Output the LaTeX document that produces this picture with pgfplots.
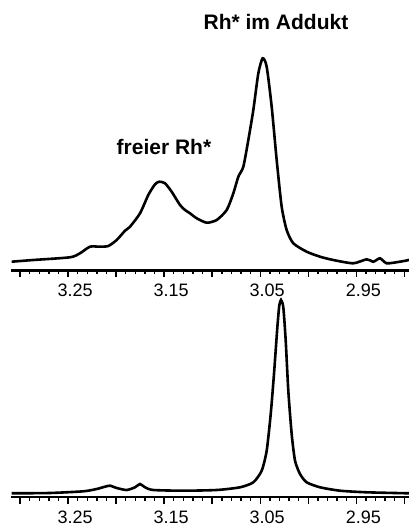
\documentclass[border=0pt]{standalone}
\usepackage{fontspec}
\setmainfont{Liberation Sans}
\usepackage{pgfplots}
\pgfplotsset{compat=1.18}
\pgfplotsset{
  nmr/.style={
    scale only axis,
    width=398pt,
    x dir=reverse,
    xmin=2.89521, xmax=3.30937,
    ymin=0,
    axis x line*=bottom,
    axis y line=none,
    axis line style={line width=2.2pt, black},
    xtick={2.90,2.95,3.00,3.05,3.10,3.15,3.20,3.25,3.30},
    xticklabels={,2.95,,3.05,,3.15,,3.25,},
    minor x tick num=4,
    tick align=outside,
    major tick length=6.5pt,
    minor tick length=4pt,
    every tick/.style={black, line width=1.4pt},
    xticklabel style={font=\fontsize{18}{18}\selectfont, inner sep=0pt, xshift=7pt, yshift=-6.8pt},
    clip=false,
  }
}
\begin{document}
\begin{tikzpicture}
\useasboundingbox (0,0) rectangle (409pt,528pt);
\begin{axis}[nmr, at={(11pt,257.5pt)}, anchor=south west, height=270.5pt, ymax=270.5]
\addplot[black, line width=2.6pt, smooth, tension=0.4] coordinates {
(3.3087,8.8) (3.2862,10.5) (3.2480,13.2) (3.2376,17.2) (3.2272,23.8) (3.2168,23.8)
(3.2081,24.5) (3.1994,30.5) (3.1907,39.8) (3.1855,43.8) (3.1751,57.2) (3.1665,75.5)
(3.1595,86.2) (3.1550,88.8) (3.1491,87.2) (3.1422,78.8) (3.1335,65.5) (3.1283,60.5)
(3.1231,57.2) (3.1161,52.2) (3.1057,47.8) (3.0953,50.5) (3.0849,60.5) (3.0780,77.2)
(3.0728,93.8) (3.0676,103.8) (3.0624,130.5) (3.0572,160.5) (3.0520,197.2) (3.0475,212.2)
(3.0433,203.8) (3.0381,163.8) (3.0329,110.5) (3.0277,63.8) (3.0225,40.5) (3.0156,27.2)
(3.0017,18.8) (2.9878,13.8) (2.9740,10.5) (2.9532,7.2) (2.9392,11.2) (2.9323,8.8)
(2.9254,12.2) (2.9184,7.2) (2.9046,8.8) (2.8952,10.5)
};
\node[anchor=base, font=\bfseries\fontsize{21}{21}\selectfont] at (axis cs:3.0336,240.5) {Rh* im Addukt};
\node[anchor=base, font=\bfseries\fontsize{21}{21}\selectfont] at (axis cs:3.1502,115.5) {freier Rh*};
\end{axis}
\begin{axis}[nmr, at={(11pt,31pt)}, anchor=south west, height=204pt, ymax=204]
\addplot[black, line width=2.6pt, smooth, tension=0.4] coordinates {
(3.3087,3.7) (3.2688,4.0) (3.2341,5.7) (3.2202,8.0) (3.2116,10.3) (3.2063,11.3)
(3.1994,9.0) (3.1890,7.0) (3.1803,9.7) (3.1751,13.0) (3.1699,9.7) (3.1613,7.0)
(3.1301,6.3) (3.0953,7.0) (3.0711,9.7) (3.0572,14.7) (3.0485,26.3) (3.0433,46.3)
(3.0391,83) (3.0357,123) (3.0322,169.7) (3.0302,191.3) (3.0284,197) (3.0260,189.7)
(3.0235,156.3) (3.0208,106.3) (3.0173,63) (3.0138,36.3) (3.0086,23) (3.0017,14.7)
(2.9878,9.7) (2.9670,6.3) (2.9392,4.7) (2.8952,3.7)
};
\end{axis}
\end{tikzpicture}
\end{document}
